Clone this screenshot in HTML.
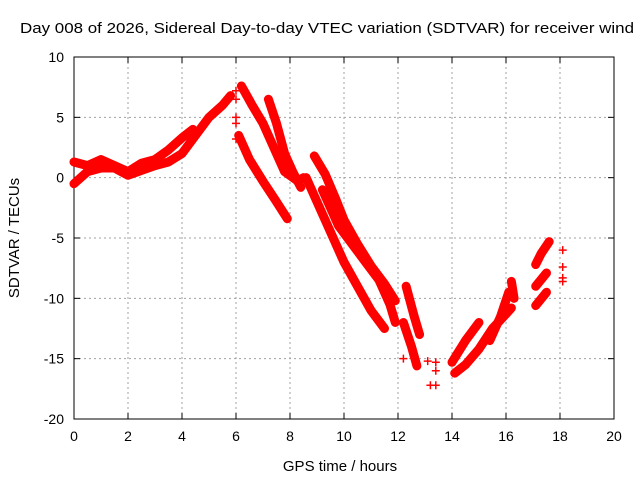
<!DOCTYPE html>
<html><head><meta charset="utf-8"><style>
body{margin:0;background:#fff}
svg{display:block;font-family:"Liberation Sans",sans-serif}
</style></head><body>
<svg id="chart" width="640" height="480">
<text x="20" y="33" font-size="15" textLength="614" lengthAdjust="spacingAndGlyphs">Day 008 of 2026, Sidereal Day-to-day VTEC variation (SDTVAR) for receiver wind</text>
<g id="grid"></g>
<g id="axes"></g>
<g id="series"></g>
<text x="340" y="471" font-size="15" text-anchor="middle">GPS time / hours</text>
<text transform="translate(19,238) rotate(-90)" font-size="15" text-anchor="middle">SDTVAR / TECUs</text>
</svg>
<script>
const xTicks=[0,2,4,6,8,10,12,14,16,18,20];
const yTicks=[10,5,0,-5,-10,-15,-20];
// traces: [hour, value] pairs
const trace1=[[0,-0.5],[0.5,0.5],[1,0.8],[1.5,0.8],[2,0.2],[2.5,0.6],[3,1.0],[3.5,1.3],[4,2.0],[4.5,3.5],[5,5.0],[5.5,6.0],[5.8,6.8]];
const trace2=[[0,1.3],[0.5,1.0],[1,1.5],[1.5,1.0],[2,0.5],[2.5,1.2],[3,1.5],[3.5,2.3],[4,3.3],[4.4,4.0]];
const trace3=[[6.2,7.6],[6.6,6.0],[7,4.5],[7.4,2.5],[7.8,0.5],[8.3,-0.3],[8.5,0]];
const trace4=[[6.1,3.5],[6.5,1.5],[7,-0.3],[7.5,-2],[7.9,-3.4]];
const trace5=[[7.2,6.5],[7.5,4.5],[7.8,2],[8.1,0.5],[8.4,-0.8]];
const trace6=[[8.9,1.8],[9.3,0.3],[9.7,-1.8],[10,-3.5],[10.5,-5.5],[11,-7.3],[11.5,-8.8],[11.9,-10.2]];
const trace7=[[8.6,0],[9,-2],[9.5,-4.5],[10,-7],[10.5,-9],[11,-11],[11.5,-12.5]];
const trace8=[[9.2,-1],[9.8,-4],[10.3,-5.5],[10.8,-7],[11.3,-8.5],[11.7,-10.5],[11.9,-12]];
const trace9=[[12.3,-9],[12.6,-11.5],[12.8,-13]];
const trace10=[[12.2,-12],[12.5,-14],[12.7,-15.6]];
const trace11=[[14,-15.3],[14.5,-13.5],[15,-12]];
const trace12=[[14.1,-16.2],[14.5,-15.5],[15,-14.2],[15.5,-12.5],[16,-11.3],[16.2,-10.8]];
const trace13=[[15.4,-13.5],[15.8,-11.5],[16.1,-9.5]];
const trace14=[[16.2,-8.6],[16.3,-10]];
const trace15=[[17.1,-7.2],[17.3,-6.3],[17.6,-5.3]];
const trace16=[[17.1,-9],[17.5,-7.9]];
const trace17=[[17.1,-10.6],[17.5,-9.5]];
const traces=[trace1,trace2,trace3,trace4,trace5,trace6,trace7,trace8,trace9,trace10,trace11,trace12,trace13,trace14,trace15,trace16,trace17];
const scatter=[[6,7.2],[6,6.5],[6,5],[6,4.5],[6,3.2],[12.2,-15],[13.1,-15.2],[13.2,-17.2],[13.4,-17.2],[13.4,-16],[13.4,-15.3],[18.1,-6],[18.1,-7.4],[18.1,-8.3],[18.1,-8.6]];

const X0=74,X1=614,Y0=419,Y1=57;
const xs=h=>X0+(h-0)/20*(X1-X0);
const ys=v=>Y0-(v+20)/30*(Y0-Y1);
const NS="http://www.w3.org/2000/svg";
function mk(t,a,p){const e=document.createElementNS(NS,t);for(const k in a)e.setAttribute(k,a[k]);p.appendChild(e);return e;}
const grid=document.getElementById('grid'),axes=document.getElementById('axes'),ser=document.getElementById('series');
xTicks.forEach(t=>{const x=xs(t);
 if(t>0&&t<20){const l=mk('line',{x1:x,x2:x,y1:Y1,y2:Y0,stroke:'#a0a0a0','stroke-dasharray':'2,3'},grid);}
 mk('line',{x1:x,x2:x,y1:Y0,y2:Y0-6,stroke:'#000'},axes);mk('line',{x1:x,x2:x,y1:Y1,y2:Y1+6,stroke:'#000'},axes);
 const tx=mk('text',{x:x,y:Y0+22,'font-size':14,'text-anchor':'middle'},axes);tx.textContent=t;
 });
yTicks.forEach(t=>{const y=ys(t);
 if(t>-20&&t<10){const l=mk('line',{x1:X0,x2:X1,y1:y,y2:y,stroke:'#a0a0a0','stroke-dasharray':'2,3'},grid);}
 mk('line',{x1:X0,x2:X0+6,y1:y,y2:y,stroke:'#000'},axes);mk('line',{x1:X1,x2:X1-6,y1:y,y2:y,stroke:'#000'},axes);
 const tx=mk('text',{x:X0-10,y:y+5,'font-size':14,'text-anchor':'end'},axes);tx.textContent=t;
 });
mk('rect',{x:X0,y:Y1,width:X1-X0,height:Y0-Y1,fill:'none',stroke:'#000'},axes);
function plus(h,v){const x=xs(h),y=ys(v);const p=mk('path',{d:`M${x-4},${y}H${x+4}M${x},${y-4}V${y+4}`,stroke:'#f00','stroke-width':1.5},ser);
 }
traces.forEach(tr=>{const pl=mk('polyline',{points:tr.map(p=>xs(p[0])+','+ys(p[1])).join(' '),fill:'none',stroke:'#f00','stroke-width':9,'stroke-linejoin':'round','stroke-linecap':'round'},ser);
 
 tr.forEach(p=>plus(p[0],p[1]));});
scatter.forEach(p=>plus(p[0],p[1]));
</script>
</body></html>
